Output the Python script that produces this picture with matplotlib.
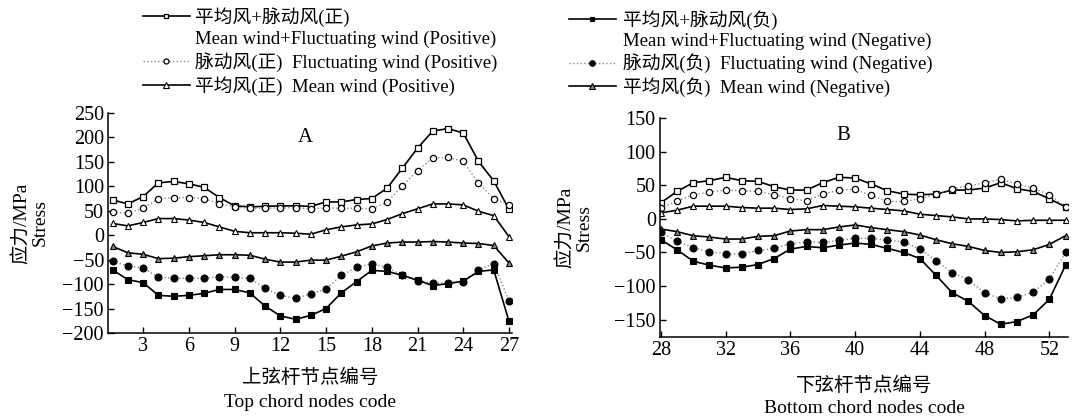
import matplotlib
matplotlib.use("Agg")
import matplotlib.pyplot as plt
from matplotlib.lines import Line2D

plt.rcParams['font.family'] = ['Liberation Serif', 'Noto Sans CJK SC']
plt.rcParams['axes.unicode_minus'] = True

# top chord (A), nodes 1..27
nodes_a = list(range(1, 28))
sum_pos_a = [72, 64, 79, 107, 110, 105, 98, 77, 60, 58, 59, 60, 60, 59, 68,
             68, 73, 75, 96, 137, 178, 213, 218, 209, 151, 111, 53]
fluc_pos_a = [47, 45, 55, 74, 77, 77, 75, 64, 58, 55, 55, 56, 56, 54, 56,
              55, 55, 54, 67, 101, 132, 158, 159, 151, 106, 75, 62]
mean_pos_a = [24, 19, 26, 34, 34, 31, 26, 17, 8, 5, 5, 5, 4, 2, 11,
              17, 21, 23, 32, 44, 54, 64, 64, 62, 49, 40, -3]
mean_neg_a = [-23, -36, -39, -48, -47, -44, -42, -40, -40, -41, -49, -55, -55, -51, -51,
              -43, -34, -22, -16, -14, -14, -13, -14, -16, -17, -21, -57]
fluc_neg_a = [-53, -63, -67, -86, -88, -88, -88, -85, -86, -88, -109, -123, -129, -120, -110,
              -82, -66, -58, -66, -82, -93, -98, -98, -95, -71, -58, -134]
sum_neg_a = [-71, -91, -97, -123, -125, -123, -119, -111, -111, -118, -145, -165, -172, -164, -150,
             -118, -95, -72, -74, -82, -92, -103, -99, -94, -74, -71, -176]

# bottom chord (B), nodes 28..53
nodes_b = list(range(28, 54))
sum_pos_b = [24, 41, 54, 57, 62, 57, 56, 48, 43, 43, 54, 62, 61,
             52, 42, 37, 36, 37, 43, 43, 46, 54, 45, 41, 30, 18]
fluc_pos_b = [16, 27, 36, 40, 43, 42, 41, 36, 30, 27, 37, 43, 44,
              35, 26, 26, 30, 37, 45, 49, 54, 59, 52, 46, 36, 18]
mean_pos_b = [9, 13, 19, 19, 19, 17, 16, 16, 14, 15, 20, 19, 18,
              16, 14, 12, 7, 5, 3, 0, 0, -1, -3, -2, -2, -2]
mean_neg_b = [-15, -19, -25, -27, -30, -30, -26, -25, -18, -16, -16, -12, -9,
              -13, -16, -19, -24, -31, -37, -41, -47, -50, -49, -46, -38, -25]
fluc_neg_b = [-20, -33, -43, -49, -52, -52, -47, -44, -37, -34, -35, -32, -29,
              -29, -32, -34, -45, -62, -80, -91, -110, -119, -117, -109, -90, -50]
sum_neg_b = [-31, -46, -63, -69, -73, -72, -68, -59, -45, -41, -43, -39, -36,
             -38, -44, -50, -59, -84, -110, -123, -144, -157, -153, -143, -120, -69]

labels_pos = ["平均风+脉动风(正)", "Mean wind+Fluctuating wind (Positive)",
              "脉动风(正)  Fluctuating wind (Positive)", "平均风(正)  Mean wind (Positive)"]
labels_neg = ["平均风+脉动风(负)", "Mean wind+Fluctuating wind (Negative)",
              "脉动风(负)  Fluctuating wind (Negative)", "平均风(负)  Mean wind (Negative)"]

styles = {
    'sum_pos': dict(color='black', lw=1.2, ls='-', marker='s', ms=4, mfc='white', mec='black', mew=0.9),
    'fluc_pos': dict(color='#888888', lw=1.0, ls=':', marker='o', ms=4.5, mfc='white', mec='black', mew=0.9),
    'mean_pos': dict(color='black', lw=1.2, ls='-', marker='^', ms=5, mfc='white', mec='black', mew=0.8),
    'sum_neg': dict(color='black', lw=1.2, ls='-', marker='s', ms=4, mfc='black', mec='black', mew=0.8),
    'fluc_neg': dict(color='#888888', lw=1.0, ls=':', marker='o', ms=5, mfc='black', mec='black', mew=0.8),
    'mean_neg': dict(color='black', lw=1.2, ls='-', marker='^', ms=5, mfc='#888888', mec='black', mew=0.8),
}

fig = plt.figure(figsize=(10.73, 4.19), dpi=100)
ax_a = fig.add_axes([0.1007, 0.2053, 0.3765, 0.5251])
ax_b = fig.add_axes([0.6151, 0.1957, 0.3802, 0.5220])


def draw(ax, x, series):
    for name, y in series:
        ax.plot(x, y, **styles[name])
    ax.spines['top'].set_visible(False)
    ax.spines['right'].set_visible(False)
    ax.tick_params(direction='in', length=4, width=1, labelsize=14.5, pad=3)
    for s in ax.spines.values():
        s.set_linewidth(1.1)


draw(ax_a, nodes_a, [('sum_pos', sum_pos_a), ('fluc_pos', fluc_pos_a), ('mean_pos', mean_pos_a),
                     ('mean_neg', mean_neg_a), ('fluc_neg', fluc_neg_a), ('sum_neg', sum_neg_a)])
draw(ax_b, nodes_b, [('sum_pos', sum_pos_b), ('fluc_pos', fluc_pos_b), ('mean_pos', mean_pos_b),
                     ('mean_neg', mean_neg_b), ('fluc_neg', fluc_neg_b), ('sum_neg', sum_neg_b)])

ax_a.set_xlim(0.7, 27.2)
ax_a.set_ylim(-200, 250)
ax_a.set_xticks(range(3, 28, 3))
ax_a.set_yticks(range(-200, 251, 50))
ax_a.text(0.488, 0.89, "A", transform=ax_a.transAxes, ha='center', va='center', fontsize=15)
ax_a.set_ylabel("应力/MPa\nStress", fontsize=14, linespacing=1.05)
ax_a.yaxis.set_label_coords(-0.148, 0.5)
ax_a.set_xlabel("上弦杆节点编号\nTop chord nodes code", fontsize=14, linespacing=1.55, labelpad=9)

ax_b.set_xlim(27.95, 53.15)
ax_b.set_ylim(-176, 150)
ax_b.set_xticks(range(28, 53, 4))
ax_b.set_yticks(range(-150, 151, 50))
ax_b.text(0.449, 0.92, "B", transform=ax_b.transAxes, ha='center', va='center', fontsize=15)
ax_b.set_ylabel("应力/MPa\nStress", fontsize=14, linespacing=1.05)
ax_b.yaxis.set_label_coords(-0.165, 0.5)
ax_b.set_xlabel("下弦杆节点编号\nBottom chord nodes code", fontsize=14, linespacing=1.4, labelpad=12)


def handles(keys):
    out = []
    for k in keys:
        if k is None:
            out.append(Line2D([], [], color='none'))
        else:
            st = dict(styles[k])
            st['ms'] = st['ms'] * 0.8
            out.append(Line2D([], [], **st))
    return out


fig.legend(handles(['sum_pos', None, 'fluc_pos', 'mean_pos']), labels_pos,
           loc='upper left', bbox_to_anchor=(0.121, 1.015), frameon=False, fontsize=13.5,
           handlelength=2.5, handletextpad=0.3, labelspacing=0.22, borderpad=0.2)
fig.legend(handles(['sum_neg', None, 'fluc_neg', 'mean_neg']), labels_neg,
           loc='upper left', bbox_to_anchor=(0.518, 1.008), frameon=False, fontsize=13.5,
           handlelength=2.5, handletextpad=0.4, labelspacing=0.18, borderpad=0.2)

fig.savefig("out.png", dpi=100)
